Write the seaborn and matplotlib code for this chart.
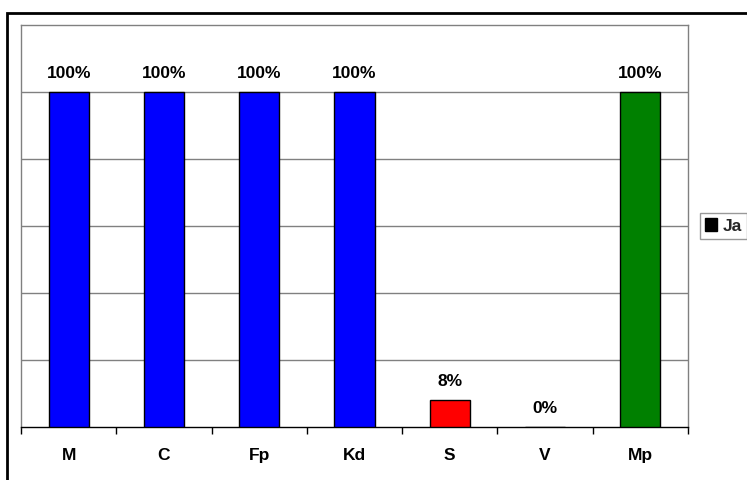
import matplotlib
matplotlib.use("Agg")
import matplotlib.pyplot as plt
import seaborn as sns
import pandas as pd
from matplotlib.patches import Rectangle, Patch

categories = ["M", "C", "Fp", "Kd", "S", "V", "Mp"]
values = [1.00, 1.00, 1.00, 1.00, 0.08, 0.00, 1.00]
bar_colors = ["#0000FF", "#0000FF", "#0000FF", "#0000FF", "#FF0000", "#FF0000", "#008000"]
legend_label = "Ja"

sns.set_theme(style="white")
plt.rcParams["font.family"] = ["Liberation Sans", "DejaVu Sans"]

df = pd.DataFrame({"cat": categories, "val": values})

W, H = 747, 480
fig = plt.figure(figsize=(W / 100, H / 100), dpi=100)
ax = fig.add_axes([21 / W, 1 - 427 / H, (688 - 21) / W, (427 - 25) / H])

sns.barplot(data=df, x="cat", y="val", hue="cat", palette=bar_colors, order=categories,
            hue_order=categories, legend=False, width=0.42, edgecolor="black",
            linewidth=1.0, saturation=1, ax=ax, zorder=3)

ax.set_ylim(0, 1.2)
ax.set_xlim(-0.5, len(categories) - 0.5)
ax.set_yticks([0.2, 0.4, 0.6, 0.8, 1.0])
ax.tick_params(axis="y", length=0, labelleft=False)
ax.yaxis.grid(True, color="#808080", linewidth=1.0, zorder=0)
ax.set_axisbelow(True)
ax.set_xlabel("")
ax.set_ylabel("")

# x ticks: labels at centers, tick marks at boundaries
ax.set_xticks(range(len(categories)))
ax.set_xticklabels(categories, fontsize=12.5, fontweight="bold", color="black")
ax.tick_params(axis="x", which="major", length=0, pad=15)
ax.set_xticks([i - 0.5 for i in range(len(categories) + 1)], minor=True)
ax.tick_params(axis="x", which="minor", length=5, width=1, color="black", direction="out", bottom=True)

for side in ["top", "right", "left"]:
    ax.spines[side].set_color("#808080")
    ax.spines[side].set_linewidth(1.0)
ax.spines["bottom"].set_color("black")
ax.spines["bottom"].set_linewidth(1.0)

for i, v in enumerate(values):
    ax.annotate(f"{v * 100:.0f}%", xy=(i, v), xytext=(0, 8), textcoords="offset points",
                ha="center", va="bottom", fontsize=12.5, fontweight="bold", color="black")

# legend
handle = Patch(facecolor="black", edgecolor="black")
leg = fig.legend([handle], [legend_label], loc="center left",
                 bbox_to_anchor=(700 / W, 1 - 226 / H), frameon=True,
                 prop={"weight": "bold", "size": 12.5}, handlelength=0.7, handleheight=0.7,
                 handletextpad=0.3, borderpad=0.3, fancybox=False, borderaxespad=0)
leg.get_frame().set_edgecolor("#808080")
leg.get_frame().set_linewidth(1.0)

# outer chart border
fig.patches.append(Rectangle((7 / W, -0.1), 1.2, 1 - 13 / H + 0.1, transform=fig.transFigure,
                             fill=False, edgecolor="black", linewidth=2, clip_on=False))

fig.savefig("out.png", dpi=100, facecolor="white")
